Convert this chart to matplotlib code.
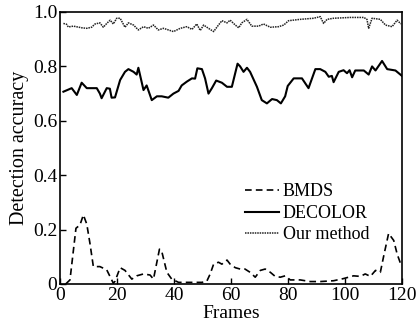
import matplotlib
matplotlib.use("Agg")
import matplotlib.pyplot as plt

plt.rcParams['font.family'] = ['Liberation Serif', 'DejaVu Serif']

# BMDS (dashed)
bmds_frames = [2, 3.5, 5.6, 7, 8.2, 9.4, 10.5, 11.7, 14, 16.4, 18.7, 19.3, 21.1, 22.8, 25.2,
               26.9, 29.3, 31.6, 32.8, 34.9, 35.7, 37.5, 39.2, 41.6, 44.5, 49.8, 51.5, 52.7,
               53.9, 55.6, 56.8, 58.6, 59.7, 61.5, 63.2, 64.9, 66.7, 68.5, 70.3, 72, 73.8,
               75.5, 77.3, 79, 80.8, 84.3, 87.8, 91.3, 96, 99.5, 103, 105.4, 107.1, 108.9,
               110.7, 112.4, 113.6, 115.3, 117.1, 118.3, 119.6]
bmds_acc = [0.0, 0.015, 0.205, 0.217, 0.254, 0.22, 0.15, 0.064, 0.064, 0.052, 0.003, 0.01,
            0.06, 0.05, 0.018, 0.03, 0.037, 0.033, 0.018, 0.128, 0.12, 0.043, 0.018, 0.006,
            0.006, 0.006, 0.01, 0.037, 0.073, 0.08, 0.073, 0.088, 0.073, 0.06, 0.055, 0.055,
            0.043, 0.025, 0.05, 0.055, 0.043, 0.028, 0.025, 0.03, 0.015, 0.015, 0.009, 0.009,
            0.012, 0.02, 0.03, 0.028, 0.037, 0.028, 0.05, 0.043, 0.104, 0.186, 0.16, 0.11, 0.072]

# DECOLOR (solid)
dec_frames = [1.2, 4.1, 5.9, 7.6, 9.4, 12.9, 14, 14.6, 16.4, 17.5, 18.1, 19.3, 21.1, 22.8, 24,
              25.8, 26.9, 27.5, 29.3, 30.4, 32.2, 34, 35.7, 38, 39.8, 41.6, 42.7, 44.5, 46.3,
              47.4, 48.2, 49.8, 50.9, 52.1, 53.3, 54.8, 56.8, 58.6, 60.3, 62.3, 63.2, 64.4,
              65.6, 66.7, 69.1, 70.8, 72.6, 74.4, 76.1, 77.5, 79, 79.9, 82, 84.9, 87.2, 89.6,
              91.3, 93.1, 94.3, 95.4, 96, 97.8, 99.5, 100.7, 101.6, 102.5, 103.6, 106.6, 108.3,
              109.5, 110.7, 113, 114.8, 117.7, 120]
dec_acc = [0.707, 0.72, 0.695, 0.74, 0.72, 0.72, 0.70, 0.683, 0.72, 0.718, 0.685, 0.686, 0.75,
           0.78, 0.79, 0.78, 0.77, 0.795, 0.713, 0.73, 0.676, 0.69, 0.69, 0.685, 0.70, 0.71,
           0.73, 0.744, 0.756, 0.755, 0.793, 0.79, 0.756, 0.70, 0.72, 0.748, 0.74, 0.725,
           0.725, 0.81, 0.80, 0.78, 0.795, 0.78, 0.725, 0.676, 0.664, 0.68, 0.676, 0.664,
           0.69, 0.728, 0.756, 0.756, 0.72, 0.79, 0.79, 0.78, 0.762, 0.765, 0.742, 0.78,
           0.786, 0.775, 0.786, 0.76, 0.785, 0.785, 0.77, 0.80, 0.785, 0.82, 0.79, 0.785, 0.765]

# Our method (dotted)
our_frames = [1.2, 2.3, 2.9, 4.7, 7.6, 9.4, 11.1, 12.3, 14, 15.2, 16.4, 17.6, 18.7, 19.9, 21.1,
              22.8, 24, 25.8, 27.5, 29.3, 31, 32.8, 34.5, 36.3, 39.8, 42.2, 44.5, 46.3, 48,
              49.2, 50.4, 52.1, 53.9, 55.6, 56.8, 58.6, 59.7, 61.5, 62.7, 63.8, 65.6, 67.3,
              69.7, 71.4, 73.8, 76.7, 78.5, 80.2, 84.3, 89, 91.3, 92.5, 93.7, 96, 101.9, 106.6,
              107.7, 108.3, 109.5, 112.4, 114.2, 116.5, 118.3, 119.6]
our_acc = [0.958, 0.955, 0.945, 0.948, 0.942, 0.94, 0.944, 0.956, 0.96, 0.944, 0.958, 0.97,
           0.956, 0.977, 0.977, 0.944, 0.96, 0.952, 0.934, 0.946, 0.94, 0.952, 0.934, 0.94,
           0.928, 0.94, 0.946, 0.936, 0.956, 0.932, 0.952, 0.94, 0.928, 0.952, 0.968, 0.96,
           0.97, 0.952, 0.942, 0.96, 0.973, 0.948, 0.948, 0.956, 0.944, 0.946, 0.952, 0.968,
           0.973, 0.977, 0.983, 0.958, 0.973, 0.977, 0.98, 0.98, 0.973, 0.94, 0.977, 0.973,
           0.952, 0.946, 0.97, 0.956]

fig = plt.figure(figsize=(4.19, 3.29), dpi=100)
ax = fig.add_axes([60 / 419, 45 / 329, 342 / 419, 272 / 329])

ax.plot(bmds_frames, bmds_acc, color='black', linestyle=(0, (4, 2.5)), linewidth=1.2, label='BMDS')
ax.plot(dec_frames, dec_acc, color='black', linestyle='-', linewidth=1.5, label='DECOLOR')
ax.plot(our_frames, our_acc, color='#222222', linestyle=(0, (1, 0.6)), linewidth=1.1, label='Our method')

ax.set_xlim(0, 120)
ax.set_ylim(0, 1.0)
ax.set_xticks([0, 20, 40, 60, 80, 100, 120])
ax.set_yticks([0, 0.2, 0.4, 0.6, 0.8, 1.0])
ax.set_yticklabels(['0', '0.2', '0.4', '0.6', '0.8', '1.0'])
ax.tick_params(direction='in', length=4, width=1, labelsize=14, pad=2)
for s in ax.spines.values():
    s.set_linewidth(1.2)

ax.set_xlabel('Frames', fontsize=14, labelpad=1)
ax.set_ylabel('Detection accuracy', fontsize=14.5, labelpad=3)

ax.legend(loc='upper left', bbox_to_anchor=(0.54, 0.37), frameon=False, fontsize=13,
          handlelength=1.9, handletextpad=0.2, labelspacing=0.25, borderpad=0,
          borderaxespad=0)

fig.savefig('out.png', dpi=100)
